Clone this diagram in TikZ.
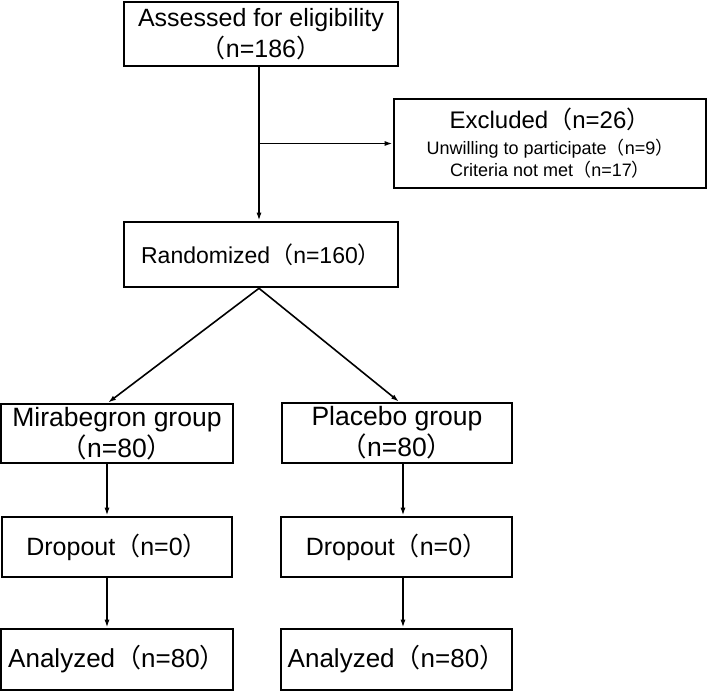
\documentclass[tikz,border=0pt]{standalone}
\usepackage{fontspec}
\setmainfont{Liberation Sans}
\newfontfamily\cjk{Noto Sans CJK SC}
\usetikzlibrary{arrows.meta}
\newcommand\lpar{{\cjk （}}
\newcommand\rpar{{\cjk ）}}
\tikzset{
  flowbox/.style={draw, line width=2.6pt, align=center, inner sep=0pt,
    font=\fontsize{25}{31}\selectfont},
  flowline/.style={line width=1.6pt, -{Latex[length=8pt,width=5pt]}}
}

\begin{document}
\begin{tikzpicture}[x=1pt,y=-1pt]
        \useasboundingbox (0,0) rectangle (709,691);
        % Enrolment
        \node[flowbox, minimum width=274pt, minimum height=64pt] (assess) at (261,34)
          {Assessed for eligibility\\\lpar n=186\rpar};
        \node[flowbox, minimum width=312pt, minimum height=89pt,
          font=\fontsize{18}{22}\selectfont] (excl) at (550,143.5)
          {{\fontsize{24}{24}\selectfont Excluded\lpar n=26\rpar}\\[4pt]
           Unwilling to participate\lpar n=9\rpar\\
           Criteria not met\lpar n=17\rpar};
        \node[flowbox, minimum width=274pt, minimum height=65pt,
          font=\fontsize{23}{28}\selectfont] (rand) at (261,254.5)
          {Randomized\lpar n=160\rpar};

        % The two arms
        \node[flowbox, minimum width=232pt, minimum height=59pt,
          font=\fontsize{26.5}{31}\selectfont] (mira) at (117,433.5)
          {Mirabegron group\\\lpar n=80\rpar};
        \node[flowbox, minimum width=230pt, minimum height=60pt,
          font=\fontsize{26.5}{31}\selectfont] (plac) at (397,433)
          {Placebo group\\\lpar n=80\rpar};
        \node[flowbox, minimum width=230pt, minimum height=60pt] (dropl) at (117,547)
          {Dropout\lpar n=0\rpar};
        \node[flowbox, minimum width=231pt, minimum height=60pt] (dropr) at (396.5,547)
          {Dropout\lpar n=0\rpar};
        \node[flowbox, minimum width=232pt, minimum height=61pt,
          font=\fontsize{26}{31}\selectfont] (anal) at (117,659.5)
          {Analyzed\lpar n=80\rpar};
        \node[flowbox, minimum width=231pt, minimum height=61pt,
          font=\fontsize{26}{31}\selectfont] (anar) at (396.5,659.5)
          {Analyzed\lpar n=80\rpar};

        % Connectors
        \coordinate (split) at ([xshift=-2pt]assess.south |- excl.west);
        \draw[flowline] ([xshift=-2pt]assess.south) -- ([xshift=-2pt]rand.north);
        \draw[flowline] (split) -- (excl.west);
        \draw[flowline] ([xshift=-2pt]rand.south) -- ([xshift=-9pt]mira.north);
        \draw[flowline] ([xshift=-2pt]rand.south) -- ([xshift=2pt]plac.north);
        \draw[flowline] ([xshift=-10pt]mira.south) -- ([xshift=-10pt]dropl.north);
        \draw[flowline] ([xshift=-10pt]dropl.south) -- ([xshift=-10pt]anal.north);
        \draw[flowline] ([xshift=6pt]plac.south) -- ([xshift=6.5pt]dropr.north);
        \draw[flowline] ([xshift=6.5pt]dropr.south) -- ([xshift=6.5pt]anar.north);
    \end{tikzpicture}
\end{document}
